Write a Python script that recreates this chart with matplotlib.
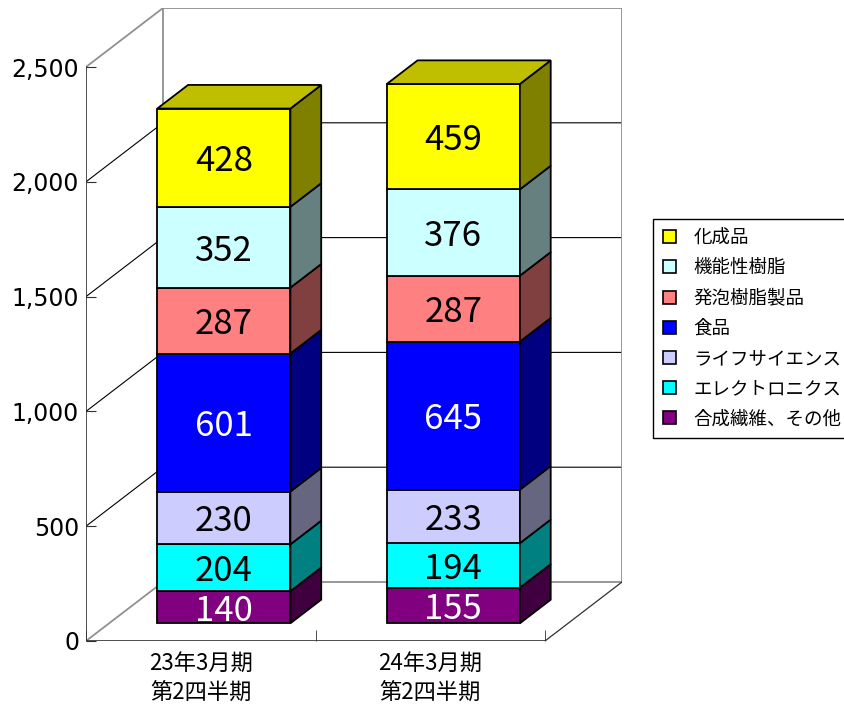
import matplotlib.pyplot as plt
from matplotlib.patches import Polygon, Patch
from matplotlib.colors import to_rgb
import numpy as np

plt.rcParams['font.family'] = ['Noto Sans CJK JP', 'DejaVu Sans']

# 売上高（億円）: 期ごと、セグメントごと
periods = ['23年3月期\n第2四半期', '24年3月期\n第2四半期']
synthetic = [140, 155]      # 合成繊維、その他
electronics = [204, 194]    # エレクトロニクス
life_science = [230, 233]   # ライフサイエンス
food = [601, 645]           # 食品
foam = [287, 287]           # 発泡樹脂製品
functional = [352, 376]     # 機能性樹脂
chemicals = [428, 459]      # 化成品

names = ['合成繊維、その他', 'エレクトロニクス', 'ライフサイエンス', '食品',
         '発泡樹脂製品', '機能性樹脂', '化成品']
series = [synthetic, electronics, life_science, food, foam, functional, chemicals]
colors = ['#800080', '#00FFFF', '#CCCCFF', '#0000FF', '#FF8080', '#CCFFFF', '#FFFF00']
text_colors = ['white', 'black', 'black', 'white', 'black', 'black', 'black']
yticks = [0, 500, 1000, 1500, 2000, 2500]

W, H = 844, 706
fig = plt.figure(figsize=(W / 100, H / 100), dpi=100)

# pixel scale of the front plane
px_x = 229.5      # px per category unit
px_v = 0.2296     # px per 1 unit of value
DX = 77 / px_x    # full depth offset in data units
DY = 59 / px_v
xmax = 2 + DX
ymax = yticks[-1] + DY

ax = fig.add_axes([86 / W, (H - 641) / H, xmax * px_x / W, ymax * px_v / H])
ax.set_xlim(0, xmax)
ax.set_ylim(0, ymax)
for s in ax.spines.values():
    s.set_visible(False)

# walls and gridlines
wall = '#909090'
for v in yticks[1:-1]:
    ax.plot([0, DX, 2 + DX], [v, v + DY, v + DY], color='black', lw=0.8, zorder=1)
top = yticks[-1]
ax.plot([0, DX, 2 + DX, 2 + DX, DX, DX], [top, top + DY, top + DY, DY, DY, top + DY],
        color=wall, lw=1.3, zorder=1)
ax.plot([0, DX], [0, DY], color=wall, lw=1.3, zorder=1)
ax.plot([2, 2 + DX], [0, DY], color='#303030', lw=0.9, zorder=1)
ax.plot([0, 0, 2], [top, 0, 0], color='#303030', lw=1.2, zorder=2)

# 3D-style stacked bars
xc = np.array([0.5, 1.5])
width = 0.58
ox, oy = 0.3 * DX, 0.3 * DY
bdx, bdy = 0.4 * DX, 0.4 * DY
bottom = np.zeros(2)
for vals, c, tc in zip(series, colors, text_colors):
    vals = np.array(vals, dtype=float)
    side = tuple(0.5 * np.array(to_rgb(c)))
    ax.bar(xc + ox, vals, width=width, bottom=bottom + oy, color=c,
           edgecolor='black', linewidth=1.3, zorder=3)
    for j in range(2):
        xr = xc[j] + ox + width / 2
        b = bottom[j] + oy
        ax.add_patch(Polygon([(xr, b), (xr + bdx, b + bdy), (xr + bdx, b + vals[j] + bdy),
                              (xr, b + vals[j])], closed=True, facecolor=side,
                             edgecolor='black', linewidth=1.3, zorder=3))
        ax.text(xc[j] + ox, b + vals[j] / 2, f'{int(vals[j])}', ha='center',
                va='center_baseline', fontsize=25, color=tc, zorder=5)
    bottom = bottom + vals

# top faces
top_c = tuple(0.75 * np.array(to_rgb(colors[-1])))
for j in range(2):
    xl = xc[j] + ox - width / 2
    xr = xc[j] + ox + width / 2
    t = bottom[j] + oy
    ax.add_patch(Polygon([(xl, t), (xr, t), (xr + bdx, t + bdy), (xl + bdx, t + bdy)],
                         closed=True, facecolor=top_c, edgecolor='black',
                         linewidth=1.3, zorder=3))

# axes ticks
ax.set_yticks(yticks)
ax.set_yticklabels([f'{v:,}' for v in yticks], fontfamily='DejaVu Sans', fontsize=17)
ax.tick_params(axis='y', direction='in', length=7, color='#303030', pad=5)
ax.set_xticks(xc)
ax.set_xticklabels(periods, fontsize=16, linespacing=1.3)
ax.set_xticks([0, 1, 2], minor=True)
ax.tick_params(axis='x', which='major', length=0, pad=8)
ax.tick_params(axis='x', which='minor', direction='in', length=8, color='#303030')

# legend, top segment first
handles = [Patch(facecolor=c, edgecolor='black', linewidth=1.2) for c in colors[::-1]]
leg = fig.legend(handles, names[::-1], loc='upper left',
                 bbox_to_anchor=(653 / W, 1 - 219 / H), fontsize=13.3,
                 frameon=True, fancybox=False, edgecolor='black', framealpha=1,
                 handlelength=0.7, handleheight=0.7, handletextpad=0.95,
                 labelspacing=0.66, borderpad=0.55, borderaxespad=0)
leg.get_frame().set_linewidth(1.0)

fig.savefig('out.png', dpi=100)
